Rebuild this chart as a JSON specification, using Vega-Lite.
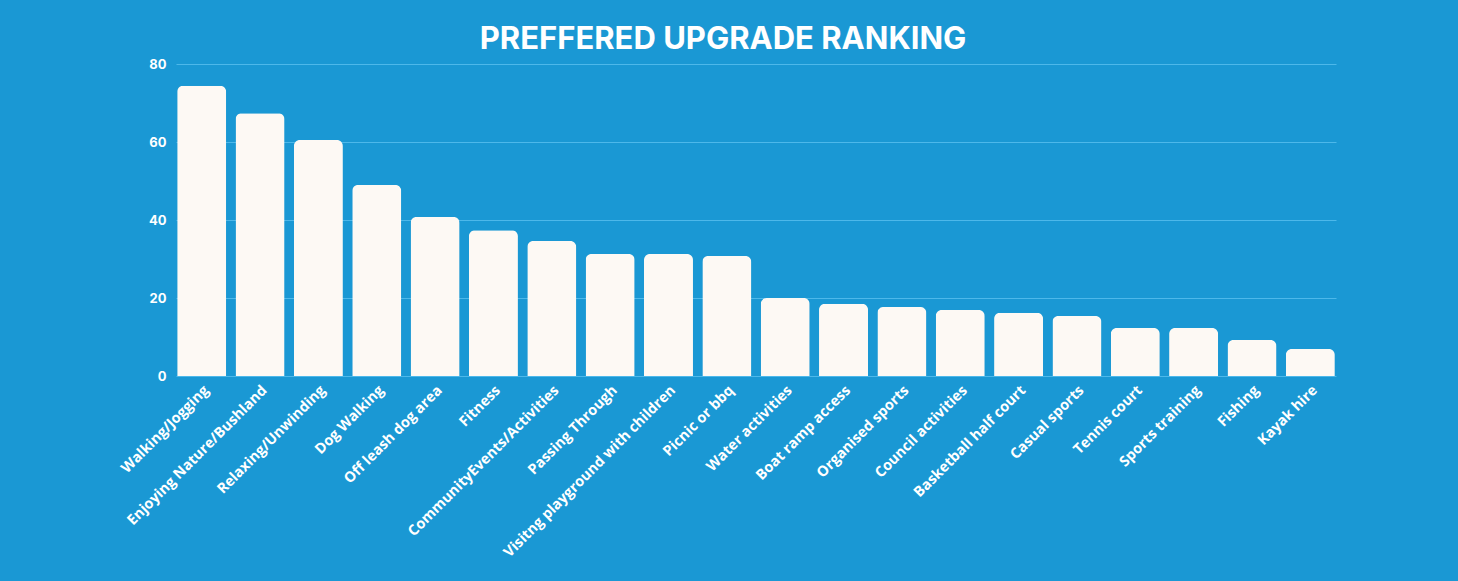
{
  "$schema": "https://vega.github.io/schema/vega-lite/v6.json",
  "description": "Preferred upgrade ranking, bar chart on a blue panel.",
  "width": 1160,
  "height": 312,
  "autosize": "none",
  "padding": {"left": 176, "top": 64, "right": 122, "bottom": 205},
  "background": "#1a98d4",
  "title": {
    "text": "PREFFERED UPGRADE RANKING",
    "font": "Inter",
    "fontSize": 31,
    "fontWeight": "bold",
    "color": "#ffffff",
    "anchor": "middle",
    "offset": 2,
    "dx": -33
  },
  "data": {
    "values": [
      {"activity": "Walking/Jogging", "score": 74.4},
      {"activity": "Enjoying Nature/Bushland", "score": 67.4},
      {"activity": "Relaxing/Unwinding", "score": 60.5},
      {"activity": "Dog Walking", "score": 49},
      {"activity": "Off leash dog area", "score": 40.8},
      {"activity": "Fitness", "score": 37.4},
      {"activity": "CommunityEvents/Activities", "score": 34.6},
      {"activity": "Passing Through", "score": 31.3},
      {"activity": "Visitng playground with children", "score": 31.3},
      {"activity": "Picnic or bbq", "score": 30.8},
      {"activity": "Water activities", "score": 20},
      {"activity": "Boat ramp access", "score": 18.5},
      {"activity": "Organised sports", "score": 17.7},
      {"activity": "Council activities", "score": 16.9},
      {"activity": "Basketball half court", "score": 16.2},
      {"activity": "Casual sports", "score": 15.4},
      {"activity": "Tennis court", "score": 12.3},
      {"activity": "Sports training", "score": 12.3},
      {"activity": "Fishing", "score": 9.2},
      {"activity": "Kayak hire", "score": 6.9}
    ]
  },
  "mark": {
    "type": "bar",
    "color": "#fdf9f4",
    "cornerRadiusTopLeft": 6,
    "cornerRadiusTopRight": 6
  },
  "encoding": {
    "x": {
      "field": "activity",
      "type": "nominal",
      "sort": null,
      "title": null,
      "scale": {"paddingInner": 0.16, "paddingOuter": 0.02},
      "axis": {
        "labelAngle": -45,
        "labelAlign": "right",
        "labelBaseline": "top",
        "labelFont": "Open Sans",
        "labelFontSize": 14.5,
        "labelFontWeight": "bold",
        "labelColor": "#ffffff",
        "labelPadding": 7,
        "labelLimit": 0,
        "ticks": false,
        "domain": false
      }
    },
    "y": {
      "field": "score",
      "type": "quantitative",
      "title": null,
      "scale": {"domain": [0, 80]},
      "axis": {
        "values": [0, 20, 40, 60, 80],
        "labelFont": "Inter",
        "labelFontSize": 13,
        "labelFontWeight": "bold",
        "labelColor": "#ffffff",
        "labelPadding": 10,
        "ticks": false,
        "domain": false,
        "gridColor": "#4db8ea",
        "gridWidth": 1
      }
    }
  },
  "config": {
    "view": {"stroke": null}
  }
}
